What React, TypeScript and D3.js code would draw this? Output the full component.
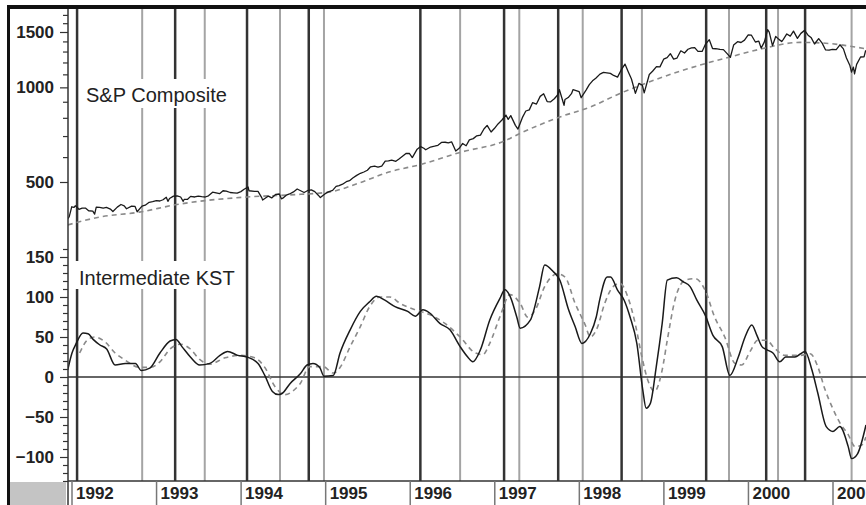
import React, { useEffect, useRef } from 'react';
import * as d3 from 'd3';

const W = 866;
const H = 505;

// S&P Composite, approximate closes
const spx: [string, number][] = [
  ["1991-12-13", 381], ["1991-12-20", 388], ["1991-12-27", 406], ["1991-12-31", 417],
  ["1992-01-10", 415], ["1992-01-15", 420], ["1992-01-24", 415], ["1992-01-31", 409],
  ["1992-02-14", 413], ["1992-02-28", 413], ["1992-03-13", 405], ["1992-03-31", 404],
  ["1992-04-08", 395], ["1992-04-15", 416], ["1992-04-30", 415], ["1992-05-15", 413], ["1992-05-29", 415],
  ["1992-06-15", 410], ["1992-06-26", 403], ["1992-07-15", 416], ["1992-07-31", 424],
  ["1992-08-14", 420], ["1992-08-24", 411], ["1992-09-15", 419], ["1992-09-30", 418],
  ["1992-10-09", 402], ["1992-10-30", 419], ["1992-11-13", 422], ["1992-11-30", 431],
  ["1992-12-15", 433], ["1992-12-31", 436],
  ["1993-01-15", 435], ["1993-01-29", 439], ["1993-02-12", 447], ["1993-02-19", 434], ["1993-02-26", 443],
  ["1993-03-15", 451], ["1993-03-31", 452], ["1993-04-15", 448], ["1993-04-26", 434], ["1993-04-30", 440],
  ["1993-05-14", 440], ["1993-05-28", 450], ["1993-06-15", 448], ["1993-06-30", 451], ["1993-07-15", 449],
  ["1993-07-30", 448], ["1993-08-13", 452], ["1993-08-31", 464], ["1993-09-15", 462], ["1993-09-30", 459],
  ["1993-10-15", 469], ["1993-10-29", 468], ["1993-11-15", 463], ["1993-11-30", 462], ["1993-12-15", 461],
  ["1993-12-31", 466],
  ["1994-01-14", 474], ["1994-01-31", 482], ["1994-02-04", 469], ["1994-02-28", 467], ["1994-03-15", 467],
  ["1994-03-31", 446], ["1994-04-04", 438], ["1994-04-29", 451], ["1994-05-13", 445], ["1994-05-31", 457],
  ["1994-06-15", 458], ["1994-06-24", 442], ["1994-06-30", 444], ["1994-07-15", 454], ["1994-07-29", 458],
  ["1994-08-15", 465], ["1994-08-31", 475], ["1994-09-15", 469], ["1994-09-30", 463], ["1994-10-14", 469],
  ["1994-10-31", 472], ["1994-11-15", 466], ["1994-11-30", 454], ["1994-12-09", 446], ["1994-12-30", 459],
  ["1995-01-13", 465], ["1995-01-31", 470], ["1995-02-15", 484], ["1995-02-28", 487], ["1995-03-15", 492],
  ["1995-03-31", 501], ["1995-04-14", 505], ["1995-04-28", 515], ["1995-05-15", 525], ["1995-05-31", 533],
  ["1995-06-15", 538], ["1995-06-30", 545], ["1995-07-14", 559], ["1995-07-31", 562], ["1995-08-15", 558],
  ["1995-08-31", 562], ["1995-09-15", 583], ["1995-09-29", 584], ["1995-10-13", 587], ["1995-10-31", 582],
  ["1995-11-15", 593], ["1995-11-30", 605], ["1995-12-15", 617], ["1995-12-29", 616],
  ["1996-01-10", 598], ["1996-01-31", 636], ["1996-02-15", 648], ["1996-02-29", 640], ["1996-03-08", 633],
  ["1996-03-29", 646], ["1996-04-15", 650], ["1996-04-30", 654], ["1996-05-15", 668], ["1996-05-31", 669],
  ["1996-06-14", 666], ["1996-06-28", 671], ["1996-07-16", 627], ["1996-07-31", 640], ["1996-08-15", 663],
  ["1996-08-30", 652], ["1996-09-13", 681], ["1996-09-30", 687], ["1996-10-15", 701], ["1996-10-31", 705],
  ["1996-11-15", 737], ["1996-11-29", 757], ["1996-12-16", 721], ["1996-12-31", 741],
  ["1997-01-15", 765], ["1997-01-31", 786], ["1997-02-18", 816], ["1997-02-28", 791], ["1997-03-11", 813],
  ["1997-03-31", 757], ["1997-04-11", 737], ["1997-04-30", 801], ["1997-05-15", 841], ["1997-05-30", 848],
  ["1997-06-13", 894], ["1997-06-30", 885], ["1997-07-16", 936], ["1997-07-31", 954], ["1997-08-15", 901],
  ["1997-08-29", 899], ["1997-09-15", 920], ["1997-09-30", 947], ["1997-10-07", 983], ["1997-10-27", 877],
  ["1997-10-31", 915], ["1997-11-14", 928], ["1997-11-28", 955], ["1997-12-05", 984], ["1997-12-31", 970],
  ["1998-01-09", 927], ["1998-01-30", 980], ["1998-02-13", 1020], ["1998-02-27", 1049], ["1998-03-13", 1069],
  ["1998-03-31", 1102], ["1998-04-15", 1116], ["1998-04-30", 1112], ["1998-05-15", 1108], ["1998-05-29", 1091],
  ["1998-06-15", 1078], ["1998-06-30", 1134], ["1998-07-17", 1186], ["1998-07-31", 1121], ["1998-08-14", 1063],
  ["1998-08-31", 957], ["1998-09-15", 1029], ["1998-09-30", 1017], ["1998-10-08", 960], ["1998-10-30", 1099],
  ["1998-11-13", 1125], ["1998-11-30", 1164], ["1998-12-15", 1162], ["1998-12-31", 1229],
  ["1999-01-15", 1243], ["1999-01-29", 1280], ["1999-02-12", 1230], ["1999-02-26", 1238], ["1999-03-15", 1307],
  ["1999-03-31", 1286], ["1999-04-15", 1322], ["1999-04-30", 1335], ["1999-05-14", 1338], ["1999-05-28", 1302],
  ["1999-06-15", 1301], ["1999-06-30", 1373], ["1999-07-16", 1418], ["1999-07-30", 1329], ["1999-08-13", 1327],
  ["1999-08-31", 1320], ["1999-09-15", 1318], ["1999-09-30", 1283], ["1999-10-15", 1247], ["1999-10-29", 1363],
  ["1999-11-15", 1397], ["1999-11-30", 1389], ["1999-12-15", 1413], ["1999-12-31", 1469],
  ["2000-01-14", 1465], ["2000-01-31", 1394], ["2000-02-15", 1402], ["2000-02-25", 1333], ["2000-03-10", 1395],
  ["2000-03-24", 1527], ["2000-03-31", 1499], ["2000-04-14", 1357], ["2000-04-28", 1452], ["2000-05-12", 1421],
  ["2000-05-24", 1399], ["2000-05-31", 1421], ["2000-06-15", 1479], ["2000-06-30", 1455], ["2000-07-14", 1510],
  ["2000-07-31", 1431], ["2000-08-15", 1485], ["2000-08-31", 1518], ["2000-09-15", 1466], ["2000-09-29", 1437],
  ["2000-10-13", 1374], ["2000-10-31", 1429], ["2000-11-15", 1383], ["2000-11-30", 1315], ["2000-12-15", 1313],
  ["2000-12-29", 1320],
  ["2001-01-15", 1318], ["2001-01-31", 1366], ["2001-02-15", 1326], ["2001-02-28", 1240], ["2001-03-15", 1173],
  ["2001-03-22", 1118], ["2001-03-30", 1160], ["2001-04-04", 1103], ["2001-04-13", 1183], ["2001-04-30", 1249],
  ["2001-05-15", 1250], ["2001-05-22", 1312],
];

// long-term trend (dashed), decimal year -> level
const spxTrend: [number, number][] = [
  [1991.95, 365], [1992.33, 387], [1992.8, 401], [1993.22, 423], [1994.07, 448], [1994.58, 455],
  [1995.05, 465], [1995.4, 497], [1995.76, 539], [1996.12, 568], [1996.59, 621], [1997.12, 676],
  [1997.3, 714], [1997.77, 805], [1998.13, 866], [1998.48, 956], [1998.84, 1044], [1999.44, 1180],
  [1999.78, 1249], [2000.14, 1323], [2000.61, 1390], [2000.85, 1385], [2001.39, 1326],
];

// Intermediate KST (solid)
const kst: [number, number][] = [
  [1991.95, 9], [1992.0, 30], [1992.05, 42], [1992.13, 55], [1992.19, 54], [1992.25, 47], [1992.33, 40],
  [1992.41, 35], [1992.51, 15], [1992.63, 17], [1992.75, 17], [1992.82, 8], [1992.92, 11], [1993.04, 30],
  [1993.16, 45], [1993.23, 47], [1993.3, 38], [1993.4, 25], [1993.51, 15], [1993.63, 17], [1993.75, 27],
  [1993.84, 32], [1993.96, 27], [1994.07, 25], [1994.2, 17], [1994.28, 2], [1994.37, -18], [1994.44, -22],
  [1994.48, -21], [1994.58, -8], [1994.7, 4], [1994.78, 15], [1994.85, 17], [1994.93, 12], [1994.98, 1],
  [1995.09, 2], [1995.17, 30], [1995.29, 59], [1995.41, 82], [1995.52, 94], [1995.6, 101], [1995.7, 96],
  [1995.82, 88], [1995.97, 82], [1996.06, 76], [1996.15, 84], [1996.23, 80], [1996.35, 67], [1996.47, 59],
  [1996.59, 38], [1996.68, 25], [1996.74, 19], [1996.83, 34], [1996.94, 71], [1997.06, 98], [1997.12, 109],
  [1997.18, 101], [1997.26, 75], [1997.3, 61], [1997.42, 71], [1997.53, 113], [1997.59, 140], [1997.69, 132],
  [1997.77, 121], [1997.87, 85], [1997.95, 63], [1998.03, 42], [1998.13, 54], [1998.2, 75], [1998.24, 96],
  [1998.33, 125], [1998.37, 125], [1998.45, 109], [1998.53, 96], [1998.6, 75], [1998.68, 42], [1998.75, -16],
  [1998.79, -39], [1998.84, -33], [1998.91, 13], [1998.98, 67], [1999.04, 121], [1999.15, 124], [1999.23, 119],
  [1999.31, 113], [1999.39, 96], [1999.49, 77], [1999.58, 52], [1999.69, 38], [1999.78, 2], [1999.88, 25],
  [1999.96, 50], [2000.04, 65], [2000.1, 52], [2000.16, 38], [2000.22, 34], [2000.29, 30], [2000.37, 19],
  [2000.44, 25], [2000.55, 25], [2000.67, 32], [2000.75, 9], [2000.82, -20], [2000.92, -62], [2001.0, -68],
  [2001.08, -62], [2001.18, -87], [2001.22, -102], [2001.29, -96], [2001.39, -60],
];

// KST signal line (dashed)
const kstSignal: [number, number][] = [
  [1992.09, 30], [1992.19, 47], [1992.27, 50], [1992.39, 44], [1992.51, 30], [1992.63, 21], [1992.8, 12],
  [1992.92, 12], [1993.04, 19], [1993.16, 35], [1993.28, 41], [1993.4, 35], [1993.51, 22], [1993.63, 16],
  [1993.81, 24], [1993.99, 27], [1994.16, 24], [1994.28, 12], [1994.4, -12], [1994.52, -22], [1994.64, -15],
  [1994.7, -8], [1994.81, 13], [1994.97, 13], [1995.09, 5], [1995.17, 12], [1995.29, 38], [1995.41, 63],
  [1995.52, 88], [1995.64, 100], [1995.76, 100], [1995.88, 92], [1996.06, 84], [1996.23, 78], [1996.41, 67],
  [1996.59, 50], [1996.77, 30], [1996.86, 28], [1996.94, 42], [1997.06, 75], [1997.18, 103], [1997.3, 92],
  [1997.39, 75], [1997.48, 84], [1997.59, 113], [1997.74, 129], [1997.83, 125], [1997.95, 92], [1998.07, 65],
  [1998.13, 50], [1998.21, 61], [1998.3, 92], [1998.4, 113], [1998.48, 117], [1998.58, 98], [1998.66, 67],
  [1998.74, 25], [1998.81, -4], [1998.89, -18], [1998.98, 9], [1999.04, 46], [1999.13, 96], [1999.25, 121],
  [1999.37, 123], [1999.49, 108], [1999.6, 75], [1999.72, 50], [1999.84, 17], [1999.92, 15], [2000.02, 32],
  [2000.11, 46], [2000.21, 46], [2000.31, 36], [2000.43, 27], [2000.61, 27], [2000.73, 29], [2000.82, 13],
  [2000.9, -14], [2001.0, -40], [2001.08, -57], [2001.18, -72], [2001.26, -87], [2001.34, -85], [2001.39, -75],
];

// KST peaks (dark verticals) and troughs (light verticals), decimal years
const peakDates = [1992.06, 1993.22, 1994.07, 1994.8, 1996.12, 1997.11, 1997.75, 1998.5, 1999.5, 2000.21, 2000.67];
const troughDates = [1992.83, 1993.57, 1994.46, 1994.98, 1996.59, 1997.29, 1998.04, 1998.74, 1999.77, 2000.35, 2001.22];

const years = [1992, 1993, 1994, 1995, 1996, 1997, 1998, 1999, 2000, 2001];
const spxLabels = [500, 1000, 1500];
const spxMinor = [600, 700, 800, 900, 1100, 1200, 1300, 1400, 1600, 1700];
const kstLabels = [-100, -50, 0, 50, 100, 150];
const kstMinor = [-130, -120, -110, -90, -80, -70, -60, -40, -30, -20, -10, 10, 20, 30, 40, 60, 70, 80, 90, 110, 120, 130, 140, 160];

const toYear = (s: string) => {
  const d = new Date(s + "T00:00:00Z");
  const y = d.getUTCFullYear();
  const a = Date.UTC(y, 0, 1);
  const b = Date.UTC(y + 1, 0, 1);
  return y + (d.getTime() - a) / (b - a);
};

const FONT = '"Liberation Sans", Arial, sans-serif';

export default function App() {
  const svgRef = useRef<SVGSVGElement>(null);

  useEffect(() => {
    if (!svgRef.current) return;
    const svg = d3.select(svgRef.current);
    svg.selectAll("*").remove();

    const left = 68, right = W, top = 9, mid = 243, bottom = 481;

    const x = d3.scaleLinear().domain([1992, 2001]).range([72, 833]);
    const ySpx = d3.scaleLog().domain([500, 1500]).range([182, 32]);
    const yKst = d3.scaleLinear().domain([-100, 150]).range([457, 257]);

    svg.append("rect").attr("width", W).attr("height", H).attr("fill", "#fff");

    const defs = svg.append("defs");
    defs.append("clipPath").attr("id", "clipTop")
      .append("rect").attr("x", left).attr("y", top).attr("width", right - left).attr("height", mid - top);
    defs.append("clipPath").attr("id", "clipBot")
      .append("rect").attr("x", left).attr("y", mid).attr("width", right - left).attr("height", bottom - mid);

    // Vertical KST turning-point lines
    svg.append("g").selectAll("line").data(troughDates).join("line")
      .attr("x1", d => x(d)).attr("x2", d => x(d))
      .attr("y1", top).attr("y2", bottom)
      .attr("stroke", "#a4a4a4").attr("stroke-width", 2);
    svg.append("g").selectAll("line").data(peakDates).join("line")
      .attr("x1", d => x(d)).attr("x2", d => x(d))
      .attr("y1", top).attr("y2", bottom)
      .attr("stroke", "#333").attr("stroke-width", 2.5);

    // Panel titles with white boxes
    const titles = [
      { text: "S&P Composite", x: 86, y: 102, bx: 82, by: 79, bw: 154, bh: 29 },
      { text: "Intermediate KST", x: 79, y: 285, bx: 75, by: 261, bw: 168, bh: 28 },
    ];
    titles.forEach(t => {
      svg.append("rect").attr("x", t.bx).attr("y", t.by).attr("width", t.bw).attr("height", t.bh).attr("fill", "#fff");
      svg.append("text").attr("x", t.x).attr("y", t.y)
        .attr("font-family", FONT).attr("font-size", 20).attr("fill", "#222")
        .text(t.text);
    });

    // Zero line
    svg.append("line")
      .attr("x1", left).attr("x2", right).attr("y1", yKst(0)).attr("y2", yKst(0))
      .attr("stroke", "#333").attr("stroke-width", 1.5);

    // S&P lines
    const gTop = svg.append("g").attr("clip-path", "url(#clipTop)");
    gTop.append("path")
      .datum(spxTrend)
      .attr("d", d3.line<[number, number]>().x(d => x(d[0])).y(d => ySpx(d[1])).curve(d3.curveMonotoneX))
      .attr("fill", "none").attr("stroke", "#8a8a8a").attr("stroke-width", 1.6).attr("stroke-dasharray", "5,4");
    gTop.append("path")
      .datum(spx)
      .attr("d", d3.line<[string, number]>().x(d => x(toYear(d[0]))).y(d => ySpx(d[1])))
      .attr("fill", "none").attr("stroke", "#1a1a1a").attr("stroke-width", 1.3).attr("stroke-linejoin", "round");

    // KST lines
    const gBot = svg.append("g").attr("clip-path", "url(#clipBot)");
    gBot.append("path")
      .datum(kstSignal)
      .attr("d", d3.line<[number, number]>().x(d => x(d[0])).y(d => yKst(d[1])).curve(d3.curveMonotoneX))
      .attr("fill", "none").attr("stroke", "#8a8a8a").attr("stroke-width", 1.6).attr("stroke-dasharray", "5,4");
    gBot.append("path")
      .datum(kst)
      .attr("d", d3.line<[number, number]>().x(d => x(d[0])).y(d => yKst(d[1])).curve(d3.curveMonotoneX))
      .attr("fill", "none").attr("stroke", "#1a1a1a").attr("stroke-width", 1.5);

    // Left axes
    const axisStyle = (g: d3.Selection<SVGGElement, unknown, null, undefined>) => {
      g.select(".domain").remove();
      g.selectAll(".tick line").attr("stroke", "#333").attr("stroke-width", 1.2);
      g.selectAll(".tick text")
        .attr("font-family", FONT).attr("font-size", 17).attr("font-weight", "bold").attr("fill", "#222")
        .attr("x", -14);
    };
    svg.append("g").attr("transform", `translate(${left},0)`)
      .call(d3.axisLeft(ySpx).tickValues(spxLabels).tickSize(8).tickFormat(d3.format("d")))
      .call(axisStyle);
    svg.append("g").attr("transform", `translate(${left},0)`)
      .call(d3.axisLeft(ySpx).tickValues(spxMinor).tickSize(5).tickFormat(() => ""))
      .call(axisStyle);
    svg.append("g").attr("transform", `translate(${left},0)`)
      .call(d3.axisLeft(yKst).tickValues(kstLabels).tickSize(8).tickFormat(d3.format("d")))
      .call(axisStyle);
    svg.append("g").attr("transform", `translate(${left},0)`)
      .call(d3.axisLeft(yKst).tickValues(kstMinor).tickSize(5).tickFormat(() => ""))
      .call(axisStyle);

    svg.append("line").attr("x1", left).attr("x2", left).attr("y1", top).attr("y2", H)
      .attr("stroke", "#333").attr("stroke-width", 1.5);

    // Bottom date strip
    svg.append("line").attr("x1", left).attr("x2", right).attr("y1", bottom).attr("y2", bottom)
      .attr("stroke", "#333").attr("stroke-width", 1.5);
    svg.append("rect").attr("x", 10).attr("y", bottom + 1).attr("width", left - 12).attr("height", H - bottom - 1)
      .attr("fill", "#c4c4c4");
    const yearG = svg.append("g").selectAll("g").data(years).join("g")
      .attr("transform", d => `translate(${x(d)},0)`);
    yearG.append("line").attr("y1", bottom).attr("y2", H).attr("stroke", "#777").attr("stroke-width", 1.5);
    yearG.append("text").attr("x", 4).attr("y", 499)
      .attr("font-family", FONT).attr("font-size", 17).attr("font-weight", "bold").attr("fill", "#222")
      .text(d => String(d));

    // Frame
    svg.append("rect").attr("x", 7).attr("y", 5).attr("width", W - 7).attr("height", 4).attr("fill", "#111");
    svg.append("rect").attr("x", 7).attr("y", 5).attr("width", 3).attr("height", H - 5).attr("fill", "#111");
  }, []);

  return (
    <svg ref={svgRef} width={W} height={H}
      style={{ position: "absolute", left: 0, top: 0, display: "block" }} />
  );
}
